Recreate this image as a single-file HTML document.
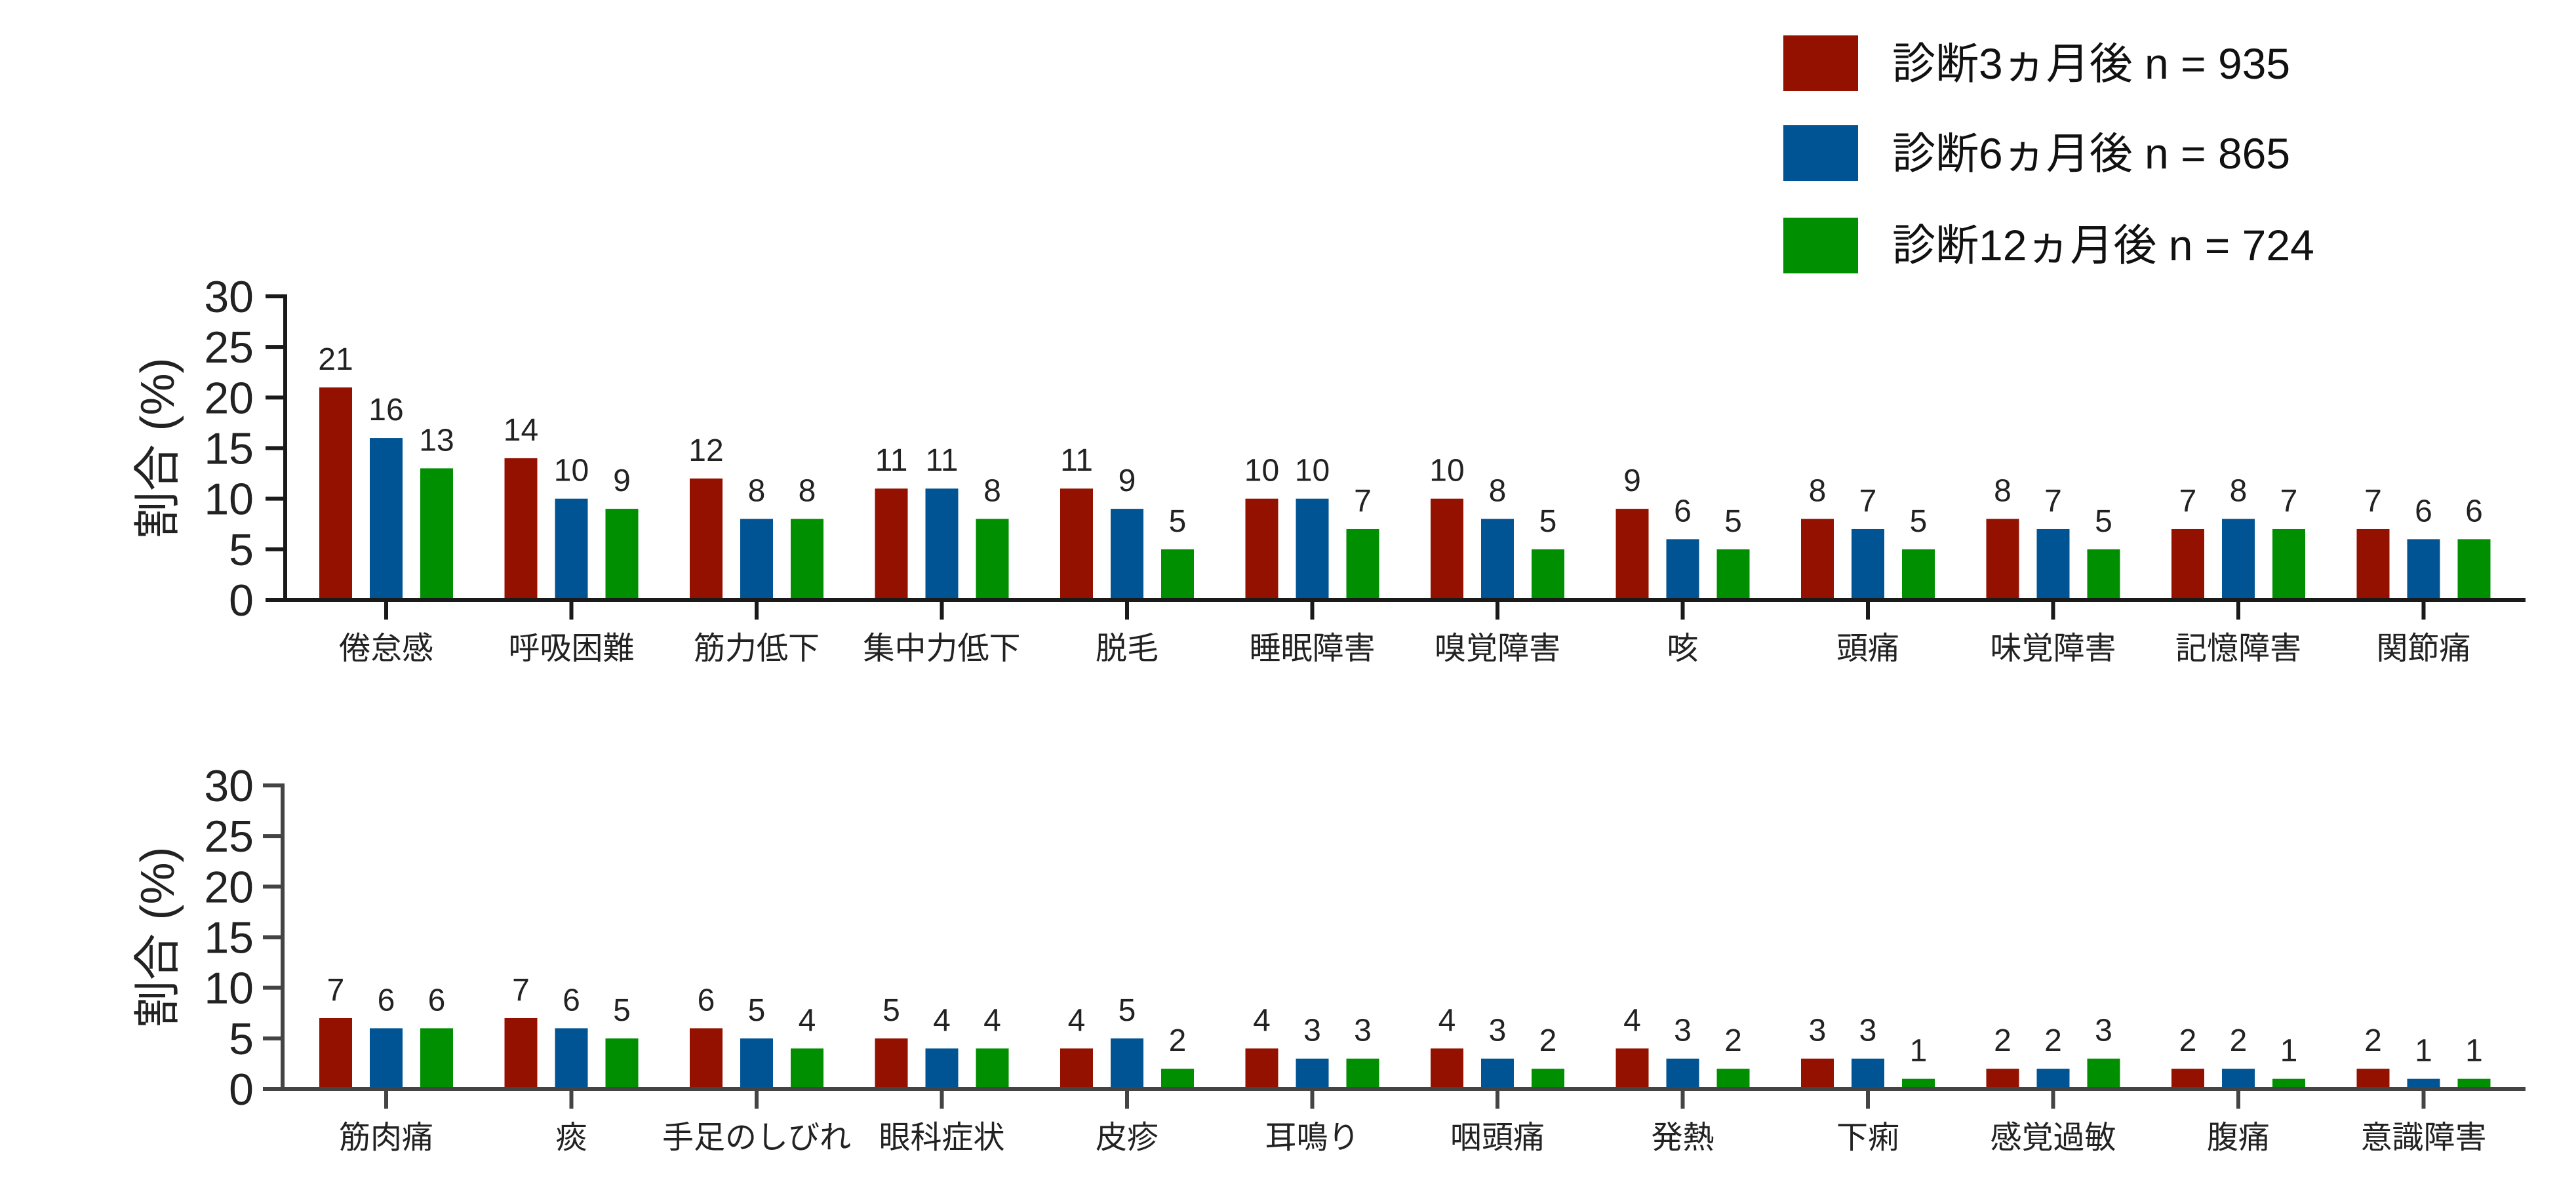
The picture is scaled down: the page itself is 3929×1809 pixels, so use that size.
<!DOCTYPE html>
<html><head><meta charset="utf-8">
<style>
html,body{margin:0;padding:0;background:#fff;}
svg{display:block;font-family:"Liberation Sans","Noto Sans CJK JP",sans-serif;}
</style></head>
<body>
<svg id="chart" width="3929" height="1809" viewBox="0 0 3929 1809" xmlns="http://www.w3.org/2000/svg">
  <g>
    <rect x="2720" y="54" width="114" height="85" fill="#941100"/>
    <text x="2886" y="120" font-size="66" fill="#111">診断3ヵ月後 n = 935</text>
    <rect x="2720" y="191" width="114" height="85" fill="#005493"/>
    <text x="2886" y="257" font-size="66" fill="#111">診断6ヵ月後 n = 865</text>
    <rect x="2720" y="332" width="114" height="85" fill="#008F00"/>
    <text x="2886" y="397" font-size="66" fill="#111">診断12ヵ月後 n = 724</text>
  </g>
</svg>
<script>
const topCategories = ["倦怠感","呼吸困難","筋力低下","集中力低下","脱毛","睡眠障害","嗅覚障害","咳","頭痛","味覚障害","記憶障害","関節痛"];
const top3m  = [21,14,12,11,11,10,10,9,8,8,7,7];
const top6m  = [16,10,8,11,9,10,8,6,7,7,8,6];
const top12m = [13,9,8,8,5,7,5,5,5,5,7,6];
const botCategories = ["筋肉痛","痰","手足のしびれ","眼科症状","皮疹","耳鳴り","咽頭痛","発熱","下痢","感覚過敏","腹痛","意識障害"];
const bot3m  = [7,7,6,5,4,4,4,4,3,2,2,2];
const bot6m  = [6,6,5,4,5,3,3,3,3,2,2,1];
const bot12m = [6,5,4,4,2,3,2,2,1,3,1,1];
const yTicks = [0,5,10,15,20,25,30];
const seriesNames = ["3m","6m","12m"];
const colors = ["#941100","#005493","#008F00"];

const NS = "http://www.w3.org/2000/svg";
const svg = document.getElementById("chart");
function mk(tag, attrs, parent){
  const e = document.createElementNS(NS, tag);
  for (const k in attrs) e.setAttribute(k, attrs[k]);
  (parent||svg).appendChild(e);
  return e;
}

function drawPanel(cfg, cats, series, panelName){
  const g = mk("g", {});
  
  
  const yScale = v => cfg.y0 - v * (cfg.y0 - cfg.y30) / 30;
  const xScale = i => cfg.c0 + i * cfg.step;
  // y axis ticks + labels
  yTicks.forEach(t => {
    const tk = mk("line", {x1: cfg.ax - 30, x2: cfg.ax, y1: yScale(t), y2: yScale(t), stroke: cfg.axisColor, "stroke-width": cfg.lw}, g);
    
    
    const tl = mk("text", {x: 387, y: yScale(t) + 24, "font-size": 68, "text-anchor": "end", fill: "#222"}, g);
    tl.textContent = t;
    
    
  });
  const yax = mk("line", {x1: cfg.ax, x2: cfg.ax, y1: yScale(30) - cfg.lw/2, y2: yScale(0), stroke: cfg.axisColor, "stroke-width": cfg.lw}, g);
  
  
  // y title
  const cy = (yScale(0) + yScale(30)) / 2;
  const yt = mk("text", {x: 0, y: 0, "font-size": 72, "text-anchor": "middle", fill: "#222", transform: `translate(265 ${cy}) rotate(-90)`}, g);
  yt.textContent = "割合 (%)";
  
  
  // bars
  cats.forEach((c, i) => {
    series.forEach((vals, s) => {
      const cx = xScale(i) + (s - 1) * 77;
      const v = vals[i];
      const b = mk("rect", {x: cx - 25, y: yScale(v), width: 50, height: yScale(0) - yScale(v), fill: colors[s]}, g);
      
      
      const vl = mk("text", {x: cx, y: yScale(v) - 27, "font-size": 48, "text-anchor": "middle", fill: "#222"}, g);
      vl.textContent = v;
      
      
    });
    const xt = mk("line", {x1: xScale(i), x2: xScale(i), y1: yScale(0), y2: yScale(0) + 30, stroke: cfg.axisColor, "stroke-width": cfg.lw}, g);
    
    
    const cl = mk("text", {x: xScale(i), y: yScale(0) + 90, "font-size": 48, "text-anchor": "middle", fill: "#222"}, g);
    cl.textContent = c;
    
    
  });
  const xax = mk("line", {x1: cfg.ax - 30, x2: 3852, y1: yScale(0), y2: yScale(0), stroke: cfg.axisColor, "stroke-width": cfg.lw}, g);
  
  
}

drawPanel({y0: 915, y30: 452, ax: 435, c0: 589, step: 282.5, lw: 6, axisColor: "#1a1a1a"}, topCategories, [top3m, top6m, top12m], "top-panel");
drawPanel({y0: 1661, y30: 1198, ax: 431, c0: 589, step: 282.5, lw: 6, axisColor: "#444"}, botCategories, [bot3m, bot6m, bot12m], "bottom-panel");
</script>
</body></html>
